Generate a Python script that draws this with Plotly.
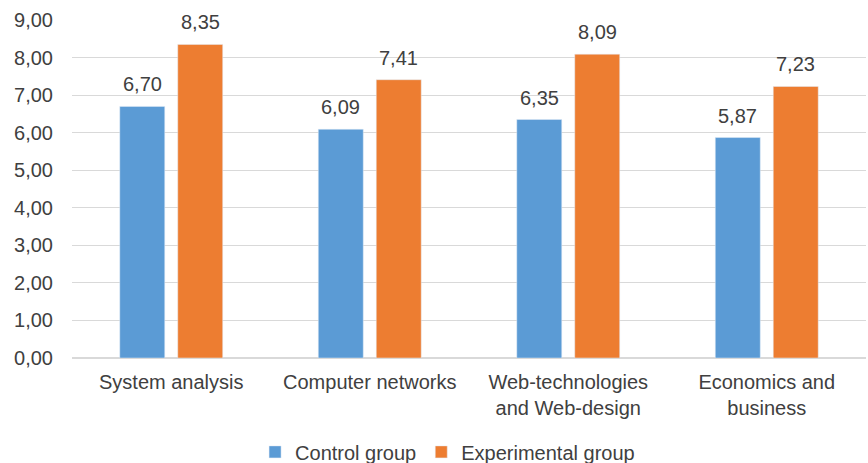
import plotly.graph_objects as go

categories = ["System analysis", "Computer networks", "Web-technologies<br>and Web-design", "Economics and<br>business"]
control = [6.70, 6.09, 6.35, 5.87]
experimental = [8.35, 7.41, 8.09, 7.23]
tick_vals = [0, 1, 2, 3, 4, 5, 6, 7, 8, 9]

TXT = "#404040"
font = dict(family="Liberation Sans, Arial, sans-serif", size=20, color=TXT)

W, H = 868, 463
ML, MR, MT, MB = 72, 2, 20, 105
BARGAP, GROUPGAP = 0.416, 0.224

fig = go.Figure()
series = [("Control group", control, "#5B9BD5"), ("Experimental group", experimental, "#ED7D31")]
for name, vals, col in series:
    fig.add_trace(go.Bar(name=name, x=categories, y=vals, marker_color=col))

# value labels placed above each bar, offset within its group
plot_w = W - ML - MR
slot = plot_w / len(categories) * (1 - BARGAP) / len(series)
for i, (name, vals, col) in enumerate(series):
    xs = (i - (len(series) - 1) / 2) * slot
    for c, v in zip(categories, vals):
        fig.add_annotation(x=c, y=v, xref="x", yref="y", text=f"{v:.2f}".replace(".", ","),
                           showarrow=False, yanchor="bottom", xanchor="center",
                           xshift=xs, yshift=9, font=dict(size=20, color=TXT))

fig.update_layout(
    width=W, height=H,
    margin=dict(l=ML, r=MR, t=MT, b=MB),
    barmode="group", bargap=BARGAP, bargroupgap=GROUPGAP,
    separators=",.",
    font=font,
    plot_bgcolor="white", paper_bgcolor="white",
    legend=dict(orientation="h", x=0.473, xanchor="center", yref="container", y=0.024, yanchor="middle",
                font=dict(size=20, color=TXT), itemwidth=30, traceorder="normal",
                tracegroupgap=0),
    xaxis=dict(showgrid=False, showline=False, ticks="", tickfont=dict(size=20, color=TXT),
               ticklabelstandoff=10),
    yaxis=dict(range=[0, 9], tickvals=tick_vals, tickformat=".2f", showgrid=True,
               gridcolor="#d9d9d9", gridwidth=1, zeroline=True, zerolinecolor="#d9d9d9",
               ticks="", tickfont=dict(size=20, color=TXT), ticklabelstandoff=18),
)

fig.write_html("out.html")
